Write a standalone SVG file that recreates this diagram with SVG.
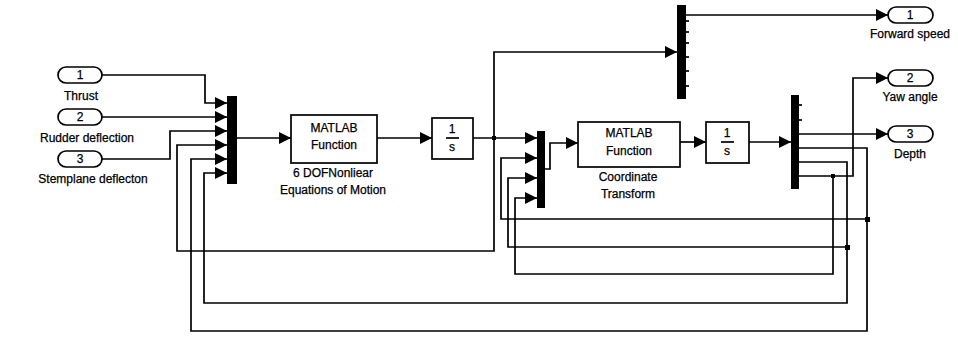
<svg xmlns="http://www.w3.org/2000/svg" width="958" height="341" viewBox="0 0 958 341">
<style>
.w{fill:none;stroke:#000;stroke-width:1.7}
.a{fill:none;stroke:#000;stroke-width:1.7;marker-end:url(#ah)}
.blk{fill:#fff;stroke:#000;stroke-width:1.7}
.bar{fill:#000}
.t{font-family:"Liberation Sans",Arial,sans-serif;font-size:12px;fill:#000;stroke:#000;stroke-width:0.25;text-anchor:middle}
.tk{stroke:#000;stroke-width:1.7}
.dot{fill:#000}
</style>
<defs>
<marker id="ah" markerUnits="userSpaceOnUse" markerWidth="12" markerHeight="12" refX="12" refY="6" orient="auto">
<path d="M0,0 L12,6 L0,12 z" fill="#000"/>
</marker>
</defs>
<rect width="958" height="341" fill="#fff"/>

<g id="connectors">
<!-- inputs -->
<path class="a" d="M102,75 H205 V103 H227"/>
<path class="a" d="M102,117 H227"/>
<path class="a" d="M102,159 H170 V131 H227"/>
<!-- mux1 -> block1 -> integrator1 -->
<path class="a" d="M237,138 H291"/>
<path class="a" d="M377,138 H432"/>
<!-- integrator1 output -->
<path class="a" d="M473,138 H537"/>
<path class="a" d="M494,138 V52 H677"/>
<path class="a" d="M494,138 V251 H177 V145 H227"/>
<!-- mux2 -> block2 -> integrator2 -> demux2 -->
<path class="a" d="M545,169 H550 V143 H578"/>
<path class="a" d="M680,142 H706"/>
<path class="a" d="M749,142 H791"/>
<!-- demux1 -> forward speed -->
<path class="a" d="M686,15 H888"/>
<!-- demux2 outputs -->
<path class="a" d="M799,134 H888"/>
<path class="a" d="M799,148 H867 V331 H191 V159 H227"/>
<path class="a" d="M867,219 H501 V158 H537"/>
<path class="a" d="M799,162 H847 V303 H204 V173 H227"/>
<path class="a" d="M847,247 H508 V178 H537"/>
<path class="a" d="M799,176 H853 V78 H888"/>
<path class="a" d="M833,176 V274 H515 V198 H537"/>
<!-- branch dots -->
<rect class="dot" x="492" y="136" width="4" height="4"/>
<rect class="dot" x="865" y="217" width="5" height="5"/>
<rect class="dot" x="845" y="245" width="5" height="5"/>
<rect class="dot" x="831" y="174" width="4" height="4"/>
</g>

<g id="in1">
<rect class="blk" x="58" y="67" width="44" height="16" rx="8"/>
<text class="t" x="80" y="79">1</text>
<text class="t" x="81" y="100">Thrust</text>
</g>
<g id="in2">
<rect class="blk" x="58" y="109" width="44" height="16" rx="8"/>
<text class="t" x="80" y="121">2</text>
<text class="t" x="87" y="142">Rudder deflection</text>
</g>
<g id="in3">
<rect class="blk" x="58" y="151" width="44" height="16" rx="8"/>
<text class="t" x="80" y="163">3</text>
<text class="t" x="93" y="183">Stemplane deflecton</text>
</g>

<g id="mux1">
<rect class="bar" x="227" y="96" width="10" height="88"/>
</g>

<g id="eom">
<rect class="blk" x="291" y="115" width="86" height="48"/>
<text class="t" x="334" y="132">MATLAB</text>
<text class="t" x="334" y="149">Function</text>
<text class="t" x="333" y="177">6 DOFNonliear</text>
<text class="t" x="333" y="194">Equations of Motion</text>
</g>

<g id="int1">
<rect class="blk" x="432" y="118" width="41" height="41"/>
<text class="t" x="452" y="133">1</text>
<line class="tk" x1="446" y1="138" x2="459" y2="138"/>
<text class="t" x="452" y="151">s</text>
</g>

<g id="demux1">
<rect class="bar" x="677" y="5" width="9" height="94"/>
<line class="tk" x1="686" y1="21" x2="689" y2="21"/>
<line class="tk" x1="686" y1="32" x2="689" y2="32"/>
<line class="tk" x1="686" y1="43" x2="689" y2="43"/>
<line class="tk" x1="686" y1="57" x2="689" y2="57"/>
<line class="tk" x1="686" y1="71" x2="689" y2="71"/>
<line class="tk" x1="686" y1="86" x2="689" y2="86"/>
</g>

<g id="mux2">
<rect class="bar" x="537" y="131" width="8" height="77"/>
</g>

<g id="ct">
<rect class="blk" x="578" y="122" width="102" height="45"/>
<text class="t" x="629" y="137">MATLAB</text>
<text class="t" x="629" y="155">Function</text>
<text class="t" x="628" y="181">Coordinate</text>
<text class="t" x="628" y="198">Transform</text>
</g>

<g id="int2">
<rect class="blk" x="706" y="122" width="43" height="41"/>
<text class="t" x="727" y="137">1</text>
<line class="tk" x1="721" y1="142" x2="734" y2="142"/>
<text class="t" x="727" y="155">s</text>
</g>

<g id="demux2">
<rect class="bar" x="791" y="95" width="8" height="94"/>
<line class="tk" x1="799" y1="105" x2="802" y2="105"/>
<line class="tk" x1="799" y1="120" x2="802" y2="120"/>
</g>

<g id="out1">
<rect class="blk" x="888" y="7" width="45" height="16" rx="8"/>
<text class="t" x="910" y="19">1</text>
<text class="t" x="910" y="38">Forward speed</text>
</g>
<g id="out2">
<rect class="blk" x="888" y="70" width="45" height="16" rx="8"/>
<text class="t" x="910" y="82">2</text>
<text class="t" x="910" y="101">Yaw angle</text>
</g>
<g id="out3">
<rect class="blk" x="888" y="126" width="45" height="16" rx="8"/>
<text class="t" x="910" y="138">3</text>
<text class="t" x="910" y="158">Depth</text>
</g>
</svg>
